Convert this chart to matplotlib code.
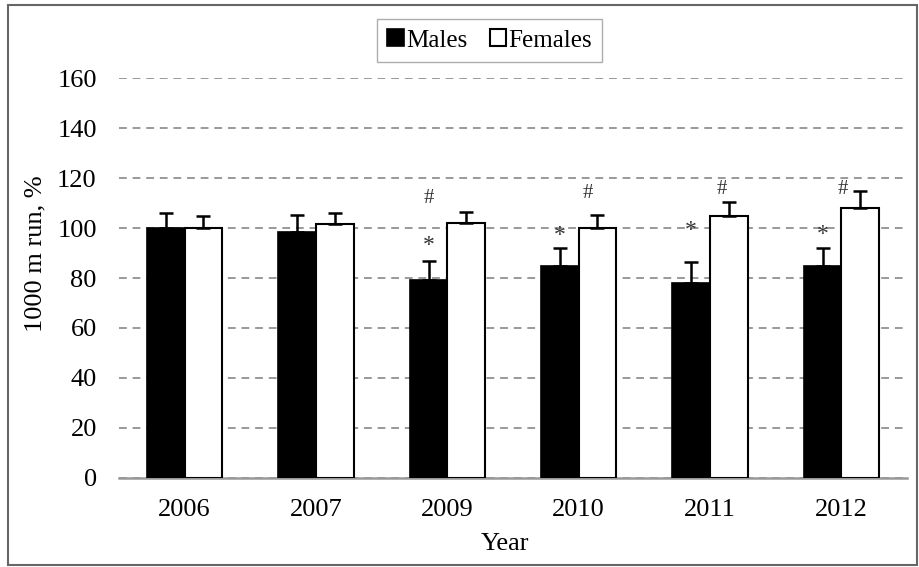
import matplotlib.pyplot as plt
import numpy as np
from matplotlib.patches import Rectangle

years = ["2006", "2007", "2009", "2010", "2011", "2012"]
males = [100, 98.5, 79.2, 84.9, 78.1, 84.9]
males_err = [6.0, 6.6, 7.5, 7.2, 8.2, 7.0]
females = [100, 101.6, 102.1, 100, 104.8, 107.9]
females_err = [4.8, 4.3, 4.4, 5.2, 5.7, 7.0]

# significance marks: y value
star_y = [None, None, 93, 97, 99, 97.6]
hash_y = [None, None, 112, 113.9, 115.6, 115.5]
hash_dx = [0, 0, -0.286, -0.07, -0.05, -0.13]

plt.rcParams['font.family'] = ['Liberation Serif', 'DejaVu Serif']

fig = plt.figure(figsize=(9.19, 5.67), dpi=100)
ax = fig.add_axes([0.1295, 0.157, 0.8575, 0.7054])

x = np.arange(len(years))
w = 0.286
ax.bar(x - w / 2, males, w, color='black', edgecolor='black', linewidth=1.2,
       label='Males', zorder=3)
ax.bar(x + w / 2, females, w, color='white', edgecolor='black', linewidth=1.5,
       label='Females', zorder=3)
ax.errorbar(x - w / 2, males, yerr=[np.zeros(len(x)), males_err], fmt='none',
            ecolor='black', elinewidth=1.8, capsize=5, capthick=1.8, zorder=4)
ax.errorbar(x + w / 2, females, yerr=[np.zeros(len(x)), females_err], fmt='none',
            ecolor='black', elinewidth=1.8, capsize=5, capthick=1.8, zorder=4)

for i in range(len(years)):
    if star_y[i] is not None:
        ax.text(x[i] - w / 2, star_y[i], '*', ha='center', va='center',
                fontsize=17, color='#333333')
    if hash_y[i] is not None:
        ax.text(x[i] + w / 2 + hash_dx[i], hash_y[i], '#', ha='center', va='center',
                fontsize=15, color='#333333')

ax.set_xlim(-0.5, len(years) - 0.5)
ax.set_ylim(0, 160)
ax.set_yticks(range(0, 161, 20))
ax.set_xticks(x)
ax.set_xticklabels(years)
ax.tick_params(axis='both', length=0, labelsize=19)
ax.tick_params(axis='x', pad=15)
ax.tick_params(axis='y', pad=16)
ax.yaxis.grid(True, linestyle=(0, (4, 3)), color='#999999', linewidth=1.4, zorder=0)
ax.set_axisbelow(True)
for s in ['left', 'right', 'top']:
    ax.spines[s].set_visible(False)
ax.spines['bottom'].set_color('#999999')
ax.spines['bottom'].set_linewidth(1.8)

ax.set_ylabel('1000 m run, %', fontsize=19, labelpad=5)
ax.yaxis.set_label_coords(-0.092, 0.561)
ax.set_xlabel('Year', fontsize=19)
ax.xaxis.set_label_coords(0.49, -0.138)

fig.legend(loc='center', bbox_to_anchor=(0.533, 0.9286), ncol=2,
           fontsize=18, frameon=True, fancybox=False, edgecolor='#999999',
           handlelength=0.65, handleheight=0.65, handletextpad=0.1, columnspacing=0.9,
           borderpad=0.4)

fig.patches.append(Rectangle((0.009, 0.004), 0.989, 0.988, transform=fig.transFigure,
                             fill=False, edgecolor='#666666', linewidth=1.5))

fig.savefig('out.png', dpi=100)
